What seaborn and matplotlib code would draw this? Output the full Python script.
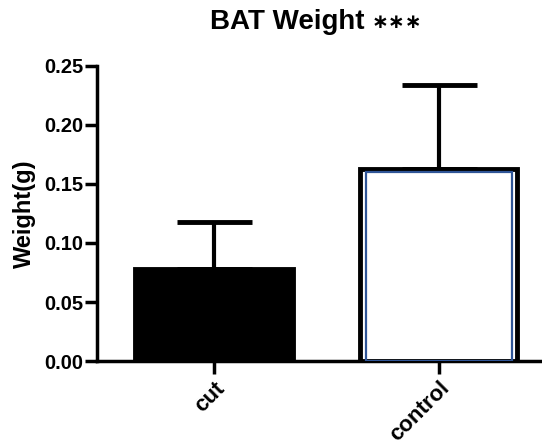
import matplotlib
matplotlib.use("Agg")
import matplotlib.pyplot as plt
import seaborn as sns
import pandas as pd
from matplotlib.ticker import FormatStrFormatter

groups = ["cut", "control"]
means = [0.078, 0.163]
sem = [0.040, 0.071]
fills = ["#000000", "#ffffff"]

sns.set_theme(style="ticks")
plt.rcParams["font.family"] = ["Liberation Sans", "DejaVu Sans"]
plt.rcParams["text.color"] = "black"
plt.rcParams["axes.labelcolor"] = "black"
plt.rcParams["xtick.color"] = "black"
plt.rcParams["ytick.color"] = "black"

df = pd.DataFrame({"group": groups, "weight": means})

fig = plt.figure(figsize=(5.42, 4.48), dpi=100)
ax = fig.add_axes([0.179, 0.194, 0.821, 0.659])

sns.barplot(data=df, x="group", y="weight", hue="group", palette=fills,
            width=0.70, edgecolor="black", linewidth=3.5, legend=False,
            errorbar=None, ax=ax, zorder=3)
# inner blue outline on the control bar
sns.barplot(data=df[df.group == "control"], x="group", y="weight",
            order=groups, width=0.65, fill=False, color="#2f5597",
            linewidth=1.6, errorbar=None, ax=ax, zorder=4)
for p in ax.patches[2:]:
    p.set_height(p.get_height() - 0.003)
    p.set_edgecolor("#2f5597")

xs = range(len(groups))
ax.errorbar(list(xs), means, yerr=[[0] * len(sem), sem], fmt="none",
            ecolor="black", elinewidth=3, capsize=27, capthick=3.5, zorder=2)

ax.set_xlim(-0.52, 1.46)
ax.set_ylim(0, 0.25)
ax.set_yticks([0, 0.05, 0.10, 0.15, 0.20, 0.25])
ax.yaxis.set_major_formatter(FormatStrFormatter("%.2f"))
ax.set_xlabel("")
ax.set_ylabel("Weight(g)", fontsize=17, fontweight="bold", labelpad=6)
for lab in ax.get_yticklabels():
    lab.set_fontweight("bold")
    lab.set_fontsize(14.5)
ax.set_xticks(list(xs))
ax.set_xticklabels(groups, rotation=45, ha="right", rotation_mode="anchor",
                   fontsize=16, fontweight="bold")
ax.tick_params(axis="both", width=2.5, length=9, color="black", pad=1)
ax.tick_params(axis="x", pad=3)
for s in ["top", "right"]:
    ax.spines[s].set_visible(False)
for s in ["left", "bottom"]:
    ax.spines[s].set_linewidth(2.5)
    ax.spines[s].set_color("black")

fig.text(0.672, 0.952, "BAT Weight", ha="right", va="center",
         fontsize=20, fontweight="bold")
fig.text(0.686, 0.950, "∗∗∗", ha="left", va="center", fontsize=14.5,
         fontweight="bold", family=["DejaVu Sans"])

fig.savefig("out.png", dpi=100)
